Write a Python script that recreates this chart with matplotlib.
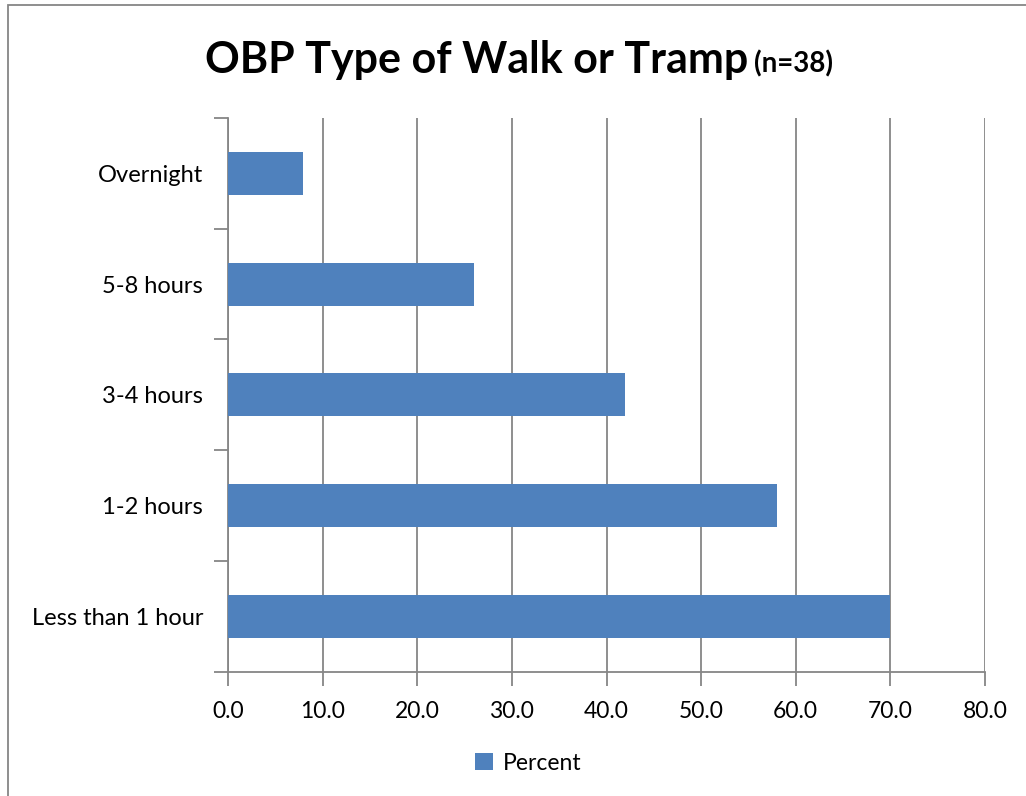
import matplotlib
matplotlib.use("Agg")
import matplotlib.pyplot as plt
from matplotlib.patches import Rectangle, Patch

categories = ["Less than 1 hour", "1-2 hours", "3-4 hours", "5-8 hours", "Overnight"]
percent = [70.0, 58.0, 42.0, 26.0, 7.9]
xticks = [0, 10, 20, 30, 40, 50, 60, 70, 80]
title_main = "OBP Type of Walk or Tramp"
title_sub = "(n=38)"
series_name = "Percent"

plt.rcParams['font.family'] = ['Lato', 'DejaVu Sans']
W, H = 1026, 796
fig = plt.figure(figsize=(W/100, H/100), dpi=100)
ax = fig.add_axes([228/W, 1-671.7/H, (985-228)/W, (671.7-118)/H])

bar_color = "#4F81BD"
grid_color = "#868686"
ypos = list(range(len(categories)))
ax.barh(ypos, percent, height=0.39, color=bar_color, zorder=3)
ax.set_xlim(0, 80)
ax.set_ylim(-0.5, len(categories)-0.5)
ax.set_xticks(xticks)
ax.set_xticklabels([f"{v:.1f}" for v in xticks], fontsize=16.5)
ax.set_yticks(ypos)
ax.set_yticklabels(categories, fontsize=17)
ax.set_yticks([i - 0.5 for i in range(len(categories)+1)], minor=True)
ax.tick_params(axis='y', which='major', length=0, pad=18)
ax.tick_params(axis='y', which='minor', length=10, width=1.3, color=grid_color, direction='out')
ax.tick_params(axis='x', which='major', length=10, width=1.3, color=grid_color, direction='out', pad=11)
ax.xaxis.grid(True, color=grid_color, linewidth=1.3, zorder=0)
for s in ['top', 'right']:
    ax.spines[s].set_visible(False)
for s in ['left', 'bottom']:
    ax.spines[s].set_color(grid_color)
    ax.spines[s].set_linewidth(1.3)

fig.text(748/W, 1-60/H, title_main, fontsize=31, fontweight='bold', ha='right', va='center')
fig.text(754/W, 1-64/H, title_sub, fontsize=20, fontweight='bold', ha='left', va='center')

fig.legend(handles=[Patch(facecolor=bar_color, label=series_name)], loc='center',
           bbox_to_anchor=(528/W, 1-763/H), frameon=False, fontsize=16.5,
           handlelength=0.8, handleheight=0.8, handletextpad=0.4)

fig.patches.append(Rectangle((8/W, -0.1), 1.2, 1.1-5/H, transform=fig.transFigure,
                             fill=False, edgecolor=grid_color, linewidth=1.3))

fig.savefig("out.png", dpi=100)
